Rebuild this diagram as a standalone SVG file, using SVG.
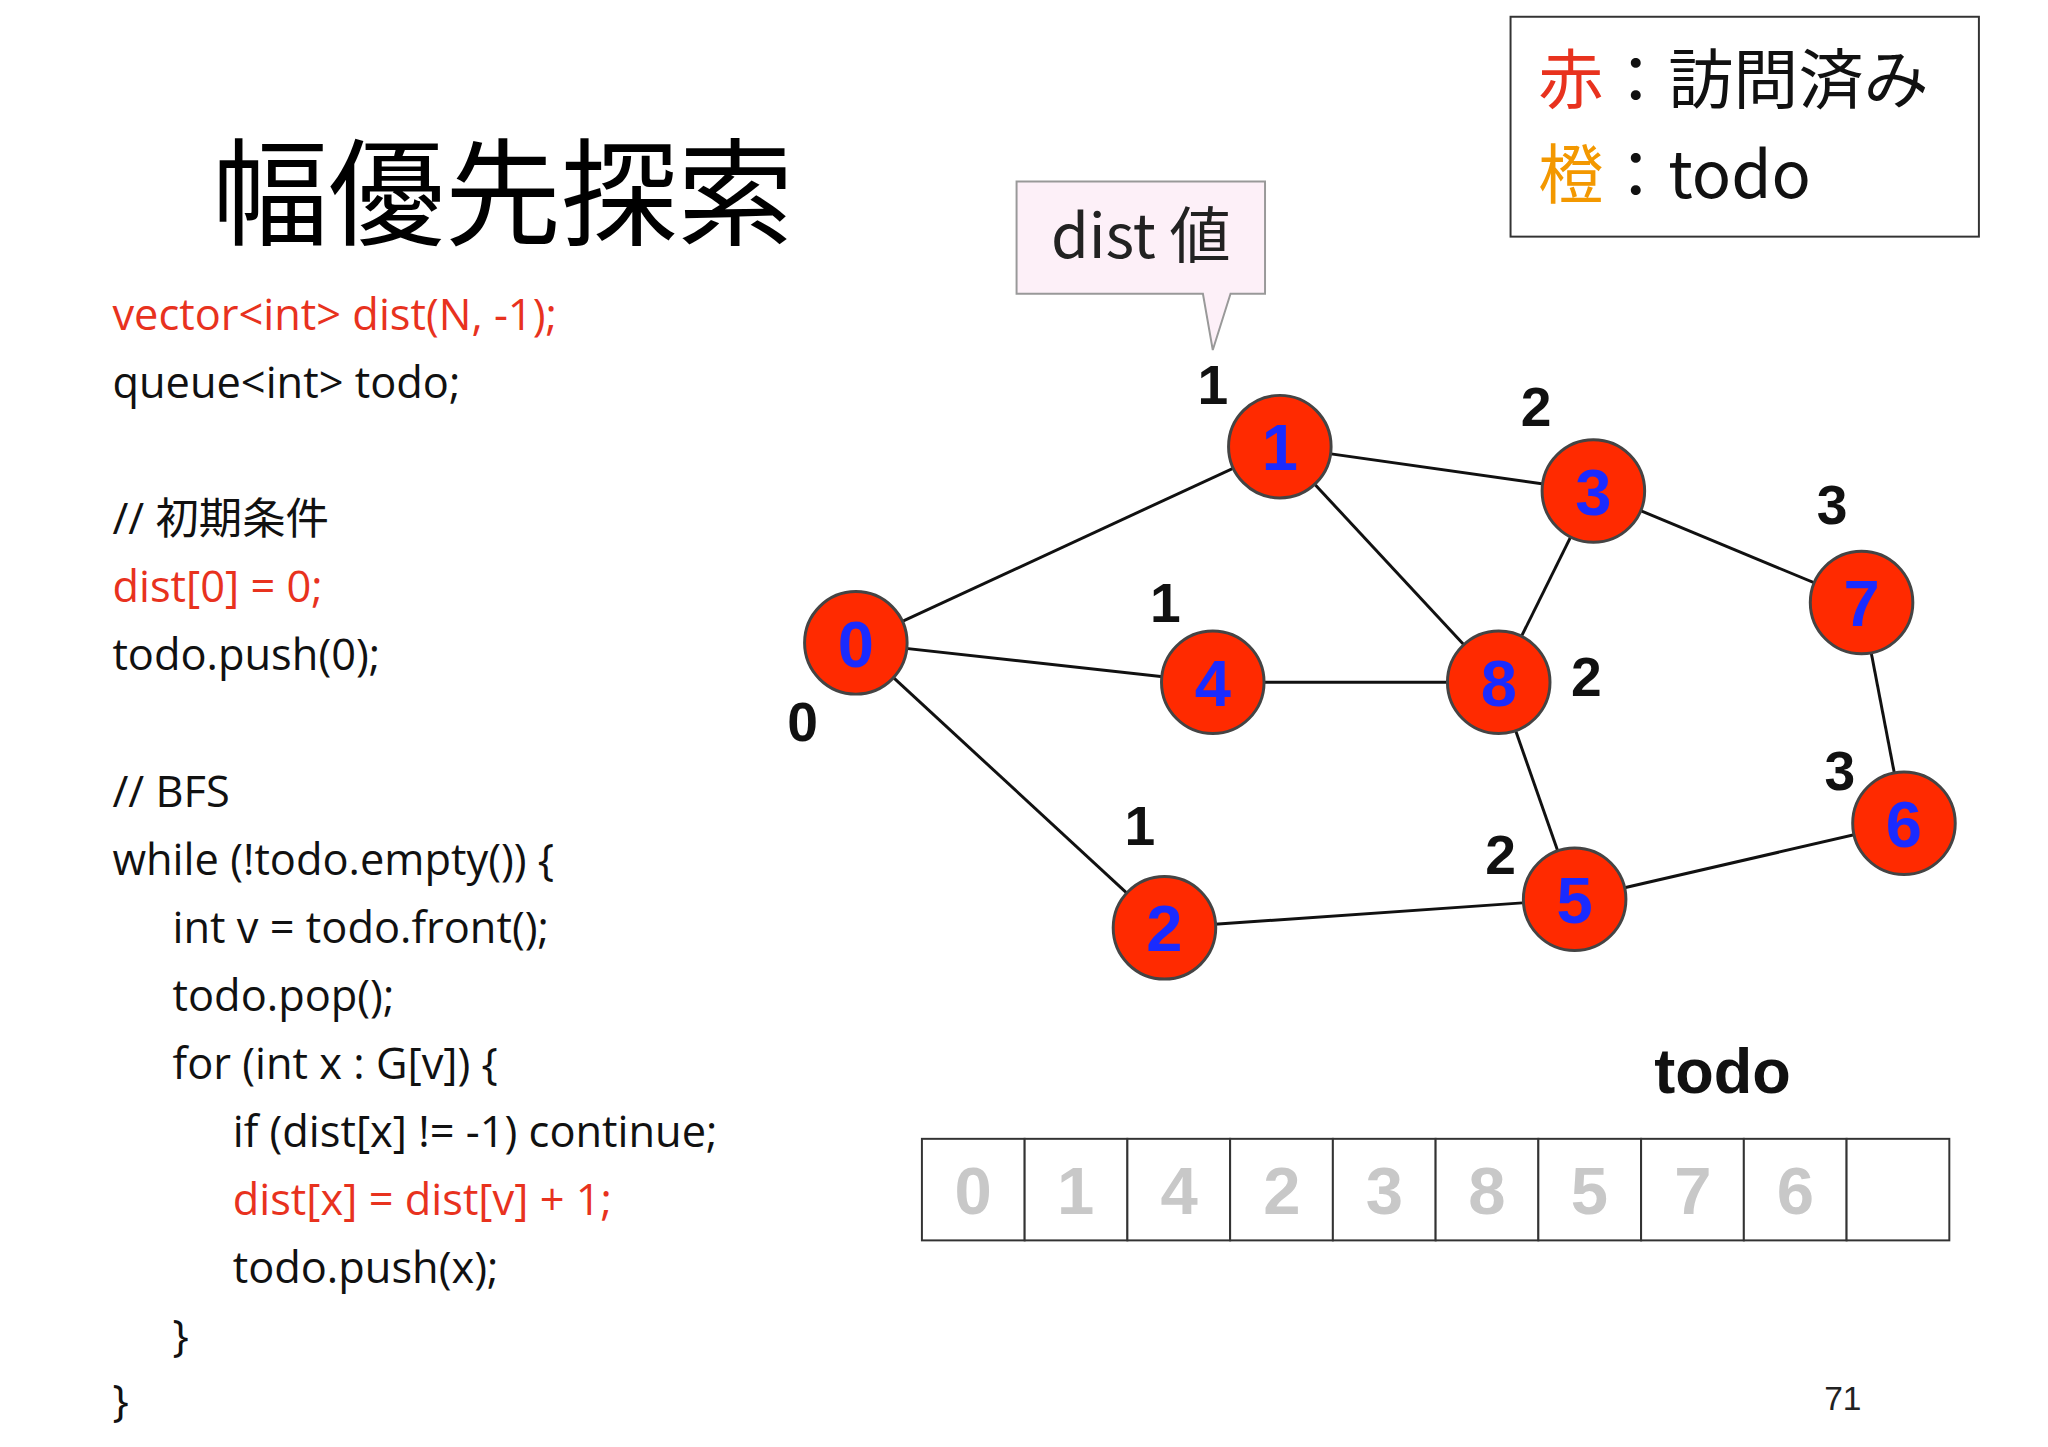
<svg xmlns="http://www.w3.org/2000/svg" width="2048" height="1447" viewBox="0 0 2048 1447">
<style>
.f{font-family:"Noto Sans CJK JP","Liberation Sans",sans-serif}
.code{font-family:"Open Sans","Noto Sans CJK JP",sans-serif;font-size:44px;fill:#111}
.red{fill:#e8321e}
.nd{fill:#ff2a00;stroke:#444;stroke-width:3}
.nl{font-family:"Liberation Sans",sans-serif;font-weight:bold;font-size:66px;fill:#1a2bff;text-anchor:middle}
.dl{font-family:"Liberation Sans",sans-serif;font-weight:bold;font-size:56px;fill:#111;text-anchor:middle}
.cell{fill:#fff;stroke:#333;stroke-width:2}
.cd{font-family:"Liberation Sans",sans-serif;font-weight:bold;font-size:68px;fill:#c8c8c8;text-anchor:middle}
</style>
<rect width="2048" height="1447" fill="#fff"/>
<g transform="scale(0.986)">
<text class="f" x="215" y="239" font-size="118">幅優先探索</text>
<g id="code">
<text class="code red" x="114" y="335">vector&lt;int&gt; dist(N, -1);</text>
<text class="code" x="114" y="404">queue&lt;int&gt; todo;</text>
<text class="code" x="114" y="542">// 初期条件</text>
<text class="code red" x="114" y="611">dist[0] = 0;</text>
<text class="code" x="114" y="680">todo.push(0);</text>
<text class="code" x="114" y="818">// BFS</text>
<text class="code" x="114" y="887">while (!todo.empty()) {</text>
<text class="code" x="175" y="956">int v = todo.front();</text>
<text class="code" x="175" y="1025">todo.pop();</text>
<text class="code" x="175" y="1094">for (int x : G[v]) {</text>
<text class="code" x="236" y="1163">if (dist[x] != -1) continue;</text>
<text class="code red" x="236" y="1232">dist[x] = dist[v] + 1;</text>
<text class="code" x="236" y="1301">todo.push(x);</text>
<text class="code" x="175" y="1370">}</text>
<text class="code" x="114" y="1436">}</text>
</g>
<g id="callout">
<path d="M1031,184 H1283 V298 H1248 L1230,355 L1220,298 H1031 Z" fill="#fdf0f8" stroke="#999" stroke-width="2"/>
<text class="f" x="1157" y="262" font-size="62" text-anchor="middle" fill="#222">dist 値</text>
</g>
<g id="legend">
<rect x="1532" y="17" width="475" height="223" fill="#fff" stroke="#333" stroke-width="2"/>
<text class="f" x="1560" y="104" font-size="66"><tspan fill="#e8321e">赤</tspan><tspan fill="#111">：訪問済み</tspan></text>
<text class="f" x="1560" y="201" font-size="66"><tspan fill="#f39800">橙</tspan><tspan fill="#111">：todo</tspan></text>
</g>
<g id="edges" stroke="#111" stroke-width="3">
<line x1="868" y1="652" x2="1298" y2="453"/>
<line x1="868" y1="652" x2="1230" y2="692"/>
<line x1="868" y1="652" x2="1181" y2="941"/>
<line x1="1298" y1="453" x2="1616" y2="498"/>
<line x1="1298" y1="453" x2="1520" y2="692"/>
<line x1="1616" y1="498" x2="1888" y2="611"/>
<line x1="1616" y1="498" x2="1520" y2="692"/>
<line x1="1230" y1="692" x2="1520" y2="692"/>
<line x1="1520" y1="692" x2="1597" y2="912"/>
<line x1="1888" y1="611" x2="1931" y2="835"/>
<line x1="1181" y1="941" x2="1597" y2="912"/>
<line x1="1597" y1="912" x2="1931" y2="835"/>
</g>
<g id="n0"><circle class="nd" cx="868" cy="652" r="52"/><text class="nl" x="868" y="676">0</text></g>
<g id="n1"><circle class="nd" cx="1298" cy="453" r="52"/><text class="nl" x="1298" y="477">1</text></g>
<g id="n3"><circle class="nd" cx="1616" cy="498" r="52"/><text class="nl" x="1616" y="522">3</text></g>
<g id="n7"><circle class="nd" cx="1888" cy="611" r="52"/><text class="nl" x="1888" y="635">7</text></g>
<g id="n4"><circle class="nd" cx="1230" cy="692" r="52"/><text class="nl" x="1230" y="716">4</text></g>
<g id="n8"><circle class="nd" cx="1520" cy="692" r="52"/><text class="nl" x="1520" y="716">8</text></g>
<g id="n2"><circle class="nd" cx="1181" cy="941" r="52"/><text class="nl" x="1181" y="965">2</text></g>
<g id="n5"><circle class="nd" cx="1597" cy="912" r="52"/><text class="nl" x="1597" y="936">5</text></g>
<g id="n6"><circle class="nd" cx="1931" cy="835" r="52"/><text class="nl" x="1931" y="859">6</text></g>
<g id="dists">
<text class="dl" x="1230" y="410">1</text>
<text class="dl" x="1558" y="432">2</text>
<text class="dl" x="1858" y="531">3</text>
<text class="dl" x="1182" y="631">1</text>
<text class="dl" x="1609" y="706">2</text>
<text class="dl" x="814" y="752">0</text>
<text class="dl" x="1866" y="801">3</text>
<text class="dl" x="1156" y="857">1</text>
<text class="dl" x="1522" y="886">2</text>
</g>
<text x="1747" y="1109" font-family="Liberation Sans,sans-serif" font-weight="bold" font-size="64" text-anchor="middle" fill="#111">todo</text>
<g id="queue">
<rect class="cell" x="935" y="1155" width="104.2" height="103"/>
<rect class="cell" x="1039.2" y="1155" width="104.2" height="103"/>
<rect class="cell" x="1143.4" y="1155" width="104.2" height="103"/>
<rect class="cell" x="1247.6" y="1155" width="104.2" height="103"/>
<rect class="cell" x="1351.8" y="1155" width="104.2" height="103"/>
<rect class="cell" x="1456" y="1155" width="104.2" height="103"/>
<rect class="cell" x="1560.2" y="1155" width="104.2" height="103"/>
<rect class="cell" x="1664.4" y="1155" width="104.2" height="103"/>
<rect class="cell" x="1768.6" y="1155" width="104.2" height="103"/>
<rect class="cell" x="1872.8" y="1155" width="104.2" height="103"/>
<text class="cd" x="987" y="1231">0</text>
<text class="cd" x="1091" y="1231">1</text>
<text class="cd" x="1196" y="1231">4</text>
<text class="cd" x="1300" y="1231">2</text>
<text class="cd" x="1404" y="1231">3</text>
<text class="cd" x="1508" y="1231">8</text>
<text class="cd" x="1612" y="1231">5</text>
<text class="cd" x="1717" y="1231">7</text>
<text class="cd" x="1821" y="1231">6</text>
</g>
<text x="1869" y="1430" font-family="Liberation Sans,sans-serif" font-size="34" text-anchor="middle" fill="#222">71</text>
</g>
</svg>
